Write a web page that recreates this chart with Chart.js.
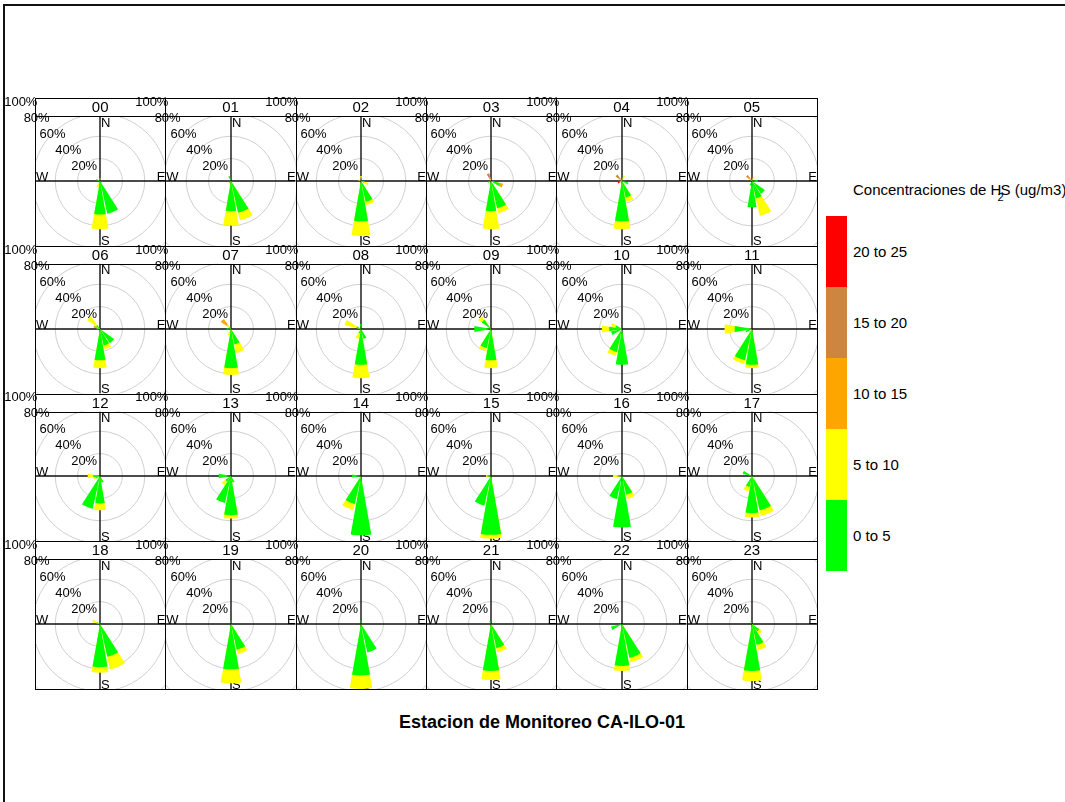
<!DOCTYPE html>
<html>
<head>
<meta charset="utf-8">
<title>Estacion de Monitoreo CA-ILO-01</title>
<script src="https://cdn.jsdelivr.net/npm/chart.js@4.4.1/dist/chart.umd.min.js"></script>
<style>
  html, body { margin: 0; padding: 0; background: #fff; }
  body { width: 1065px; height: 802px; overflow: hidden; position: relative;
         font-family: "Liberation Sans", Arial, sans-serif; color: #000; }
  .frame { position: absolute; left: 3px; top: 4px; width: 1200px; height: 1000px;
           border-left: 2px solid #111; border-top: 2px solid #111; }
  canvas { position: absolute; }
  .line { position: absolute; background: #000; z-index: 5; }
  .strip { position: absolute; text-align: center; font-size: 15px; line-height: 18px; z-index: 4; }
  .title { position: absolute; left: 342px; width: 400px; top: 712px; text-align: center;
           font-size: 18px; font-weight: bold; }
  .key-title { position: absolute; left: 853px; top: 181px; font-size: 15px; white-space: nowrap; }
  .key-title .sub { font-size: 11px; position: relative; top: 6px; margin-left: -4px; margin-right: -3px; }
  .swatch { position: absolute; left: 826px; width: 21px; }
  .key-label { position: absolute; left: 853px; font-size: 15px; line-height: 18px; }
</style>
</head>
<body>
<div class="frame"></div>
<div class="title">Estacion de Monitoreo CA-ILO-01</div>
<div class="key-title">Concentraciones de H<span class="sub">2</span>S (ug/m3)</div>
<div id="root"></div>
<script>
// Hour of day shown in each panel strip
const hours = ['00','01','02','03','04','05','06','07','08','09','10','11',
               '12','13','14','15','16','17','18','19','20','21','22','23'];
// 16 wind sectors, clockwise from north
const directions = ['N','NNE','NE','ENE','E','ESE','SE','SSE','S','SSW','SW','WSW','W','WNW','NW','NNW'];
// H2S concentration classes (ug/m3)
const bandLabels = ['0 to 5','5 to 10','10 to 15','15 to 20','20 to 25'];
const bandColors = ['#00ff00','#ffff00','#ffa500','#cd853f','#ff0000'];
// Frequency rings (%)
const ringValues = [20, 40, 60, 80, 100];

// Frequency (%) per hour and sector for each concentration class
const freq0to5 = [
  [0.5,0,0,0,0,0,2,30,30,2,0,0,0,3.5,0,0],
  [0,0,0,0,0,0,0,29,27,0,2,0,0,0,0,4.5],
  [1,0,0,0,0,3,0,19,36,0,0,0,0,1,0,0],
  [0,0,0,0,0,8,0,25,27,0,0,3,0,0,0,1],
  [0,2,0,0,0,6,0,15,36,0,0,1,0,0,1,0],
  [0,1,0,0,5,0,14,16,23.5,4,0,0,0,0,1,0],
  [0,0,0,0,0,0,15.4,15,28,0,0,0,3,2,4,0],
  [0,0,0,0,0,0,0,14,35,2,0,0,4,0,2,0],
  [4.5,0,0,0,0,0,0,9,32,4,0,0,0,4,0,0],
  [0,0,0,0,0,0,0,0,28,17.5,0,0,15,0,10,0],
  [0,0,0,0,0,0,0,0,32,21,0,10,11.5,6,0,0],
  [0,0,0,0,0,0,0,0,32,28.5,0,6,15.5,0,0,0],
  [0,0,0,0,0,0,0,6,24.5,30,0,4,6,0,0,0],
  [0,0,0,0,0,0,0,6,35,24.7,6,0,11,0,0,0],
  [0,0,0,0,0,0,0,0,53,25.5,0,0,8,0,0,0],
  [0,0,0,0,0,0,0,0,52.5,27,0,0,3,0,0,0],
  [0,0,0,0,0,0,0,17,46,21,0,0,3,0,0,0],
  [0,0,0,0,0,0,0,31.5,33,10,0,0,0,8.5,0,0],
  [0,2,0,0,0,0,0,30,38.5,0,0,0,0,3,0,0],
  [3,0,0,0,0,0,0,23.5,40.5,0,0,0,0,0,0,0],
  [3,0,0,0,0,0,0,26,46,0,0,0,0,0,0,0],
  [0,0,0,0,0,0,0,22,42,0,0,0,0,0,0,3],
  [0,0,0,0,0,0,0,31,37.5,0,0,10,0,0,0,0],
  [0,0,0,0,0,0,8,19,42,0,0,0,0,0,0,3]
];
const freq5to10 = [
  [2,0,0,0,0,0,0,0,13,4,0,0,0,0,0,0],
  [0,0,0,0,0,0,0,7,13,0,1,0,0,0,0,0],
  [3.5,0,0,0,0,4,0,3,13,0,0,0,0,2,0,0],
  [0,0,0,0,0,0,0,4.5,16,0,0,0,0,0,0,1],
  [0,3,0,0,0,0,0,4,7,0,0,0.5,0,0,1,0],
  [0,3,0,0,0,0,0,16,0,0,0,0,0,0,1,0],
  [0,0,0,0,0,0,0,3.5,7,0,0,0,0,1,10,0],
  [0,0,0,0,0,0,0,8,6,4,0,0,0,0,3,0],
  [0,0,0,0,0,0,0,0,12,5,0,0,0,11,0,0],
  [0,0,0,0,0,0,0,0,7,2.5,0,0,0,0,4,0],
  [0,0,0,0,0,0,0,0,0,3.5,0,0,6.5,4,0,0],
  [0,0,0,0,0,0,0,0,3,3.5,0,0,9,0,0,0],
  [0,0,0,0,0,0,0,0,6,0,0,2,5,0,0,0],
  [0,0,0,0,0,0,0,0,3,0,4,0,0,0,0,0],
  [0,0,0,0,0,0,0,0,0,5.5,0,0,0,0,0,0],
  [0,0,0,0,0,0,0,0,3.5,0,0,0,1.5,0,0,0],
  [0,0,0,0,0,0,0,4,0,0,0,0,5,0,0,0],
  [0,0,0,0,0,0,0,5,4,4,0,0,0,0,0,0],
  [0,0,0,0,0,0,0,11.5,5,0,0,0,0,4,0,0],
  [0,0,0,0,0,0,0,4,12.5,0,0,0,0,0,0,0],
  [0,0,0,0,0,0,0,0,12,0,0,0,0,0,0,0],
  [0,0,0,0,0,0,0,4,8,0,0,0,0,0,0,0],
  [0,0,0,0,0,0,0,4,4.5,0,0,0,0,0,0,0],
  [0,0,0,0,0,0,3,5,9,0,0,0,0,0,0,0]
];
const Z = [0,0,0,0,0,0,0,0,0,0,0,0,0,0,0,0];
const freq10to15 = [
  Z, Z, Z,
  [0,0,0,0,0,3,0,0,0,0,0,0,0,0,0,2],
  [0,0,0,0,0,0,0,0,0,0,0,0.5,0,0,1,0],
  [0,0,0,0,0,0,0,0,0,0,0,0,0,0,3,0],
  [0,0,0,0,0,0,0,0,0,0,0,0,0,3,0,0],
  [0,0,0,0,0,0,0,0,0,0,0,0,0,0,6,0],
  Z, Z, Z, Z, Z, Z, Z, Z, Z, Z, Z, Z, Z, Z, Z, Z
];
const freq15to20 = [
  Z, Z, Z,
  [0,0,0,0,0,0,0,0,0,0,0,0,0,0,0,3],
  [0,0,0,0,0,0,0,0,0,0,0,0.5,0,0,4,0],
  [0,0,0,0,0,0,0,0,0,0,0,0,0,0,1.5,0],
  Z, Z, Z, Z, Z, Z, Z, Z, Z, Z, Z, Z, Z, Z, Z, Z, Z, Z
];
const freq20to25 = [
  Z, Z, Z, Z,
  [0,0,0,0,0,0,0,0,0,0,0,1.5,0,0,0,0],
  Z, Z, Z, Z, Z, Z, Z, Z, Z, Z, Z, Z, Z, Z, Z, Z, Z, Z, Z
];
const bandTables = [freq0to5, freq5to10, freq10to15, freq15to20, freq20to25];

// ---- layout ----
const GRID_LEFT = 35, GRID_RIGHT = 817, GRID_TOP = 98, GRID_BOTTOM = 689;
const COLS = 6, ROWS = 4, STRIP_H = 18;
const COL_W = (GRID_RIGHT - GRID_LEFT) / COLS;
const ROW_H = (GRID_BOTTOM - GRID_TOP) / ROWS;
const CANVAS = 224;             // radial scale max (100 %) spans half of this
const SECTOR = 360 / directions.length;
const WEDGE = 20;               // drawn width of a sector, degrees
const FONT = '"Liberation Sans", Arial, sans-serif';

const root = document.getElementById('root');
function addDiv(cls, css, text) {
  const d = document.createElement('div');
  d.className = cls;
  Object.assign(d.style, css);
  if (text !== undefined) d.textContent = text;
  root.appendChild(d);
  return d;
}

// panel borders
for (let c = 0; c <= COLS; c++) {
  const x = Math.round(GRID_LEFT + c * COL_W);
  addDiv('line', {left: x + 'px', top: GRID_TOP + 'px', width: '1px', height: (GRID_BOTTOM - GRID_TOP + 1) + 'px'});
}
for (let r = 0; r <= ROWS; r++) {
  const y = Math.round(GRID_TOP + r * ROW_H);
  addDiv('line', {left: GRID_LEFT + 'px', top: y + 'px', width: (GRID_RIGHT - GRID_LEFT + 1) + 'px', height: '1px'});
  if (r < ROWS) {
    addDiv('line', {left: GRID_LEFT + 'px', top: (y + STRIP_H) + 'px', width: (GRID_RIGHT - GRID_LEFT + 1) + 'px', height: '1px'});
  }
}

// colour key
const SW_TOP = 216, SW_H = 71;
bandLabels.forEach((lab, k) => {
  const top = SW_TOP + (bandLabels.length - 1 - k) * SW_H;
  addDiv('swatch', {top: top + 'px', height: SW_H + 'px', background: bandColors[k]});
  addDiv('key-label', {top: (top + SW_H / 2 - 9) + 'px'}, lab);
});

// frame, axes, compass letters and ring labels for one rose
const roseFrame = {
  id: 'roseFrame',
  beforeDraw(chart, args, o) {
    const ctx = chart.ctx;
    ctx.save();
    ctx.beginPath();
    ctx.rect(o.x0, o.y0, o.x1 - o.x0, o.y1 - o.y0);
    ctx.clip();
  },
  beforeDatasetsDraw(chart, args, o) {
    const ctx = chart.ctx;
    const r = chart.scales.r;
    const cx = r.xCenter, cy = r.yCenter;
    ctx.save();
    ctx.strokeStyle = '#111';
    ctx.lineWidth = 1.4;
    ctx.beginPath();
    ctx.moveTo(o.x0, cy); ctx.lineTo(o.x1, cy);
    ctx.moveTo(cx, o.y0); ctx.lineTo(cx, o.y1);
    ctx.stroke();
    ctx.fillStyle = '#000';
    ctx.font = '13px ' + FONT;
    ctx.textBaseline = 'alphabetic';
    ctx.textAlign = 'left';
    ctx.fillText('N', cx + 1, o.y0 + 10.5);
    ctx.fillText('S', cx + 1, o.y1 - 0.5);
    ctx.fillText('W', o.x0 + 1, cy);
    ctx.textAlign = 'right';
    ctx.fillText('E', o.x1, cy);
    ctx.restore();
  },
  afterDatasetsDraw(chart) {
    chart.ctx.restore();
  },
  afterDraw(chart) {
    const ctx = chart.ctx;
    const r = chart.scales.r;
    ctx.save();
    ctx.fillStyle = '#000';
    ctx.font = '13px ' + FONT;
    ctx.textAlign = 'center';
    ctx.textBaseline = 'middle';
    ringValues.forEach(v => {
      const d = r.getDistanceFromCenterForValue(v) * Math.SQRT1_2;
      ctx.fillText(v + '%', r.xCenter - d, r.yCenter - d + 1);
    });
    ctx.restore();
  }
};

// sector labels alternate with blank spacer slices
const sliceLabels = [];
directions.forEach(d => { sliceLabels.push(d); sliceLabels.push(''); });

hours.forEach((hour, i) => {
  const col = i % COLS, row = Math.floor(i / COLS);
  const pl = GRID_LEFT + col * COL_W, pr = pl + COL_W;
  const rowTop = GRID_TOP + row * ROW_H;
  const pt = rowTop + STRIP_H, pb = rowTop + ROW_H;
  const cx = Math.round((pl + pr) / 2), cy = Math.round((pt + pb) / 2);
  const left = cx - CANVAS / 2, top = cy - CANVAS / 2;

  addDiv('strip', {left: pl + 'px', top: rowTop + 'px', width: COL_W + 'px', height: STRIP_H + 'px'}, hour);

  const cv = document.createElement('canvas');
  cv.width = CANVAS; cv.height = CANVAS;
  cv.style.left = left + 'px'; cv.style.top = top + 'px';
  cv.style.width = CANVAS + 'px'; cv.style.height = CANVAS + 'px';
  cv.style.zIndex = 2 + (i % 2);
  root.appendChild(cv);

  // stacked classes: each dataset reaches the cumulative frequency of its class
  const datasets = bandLabels.map((lab, k) => {
    const data = [];
    directions.forEach((d, s) => {
      let cum = 0;
      for (let b = 0; b <= k; b++) cum += bandTables[b][i][s];
      data.push(bandTables[k][i][s] > 0 ? cum : 0);
      data.push(0);
    });
    return {
      label: lab,
      data,
      backgroundColor: bandColors[k],
      borderWidth: 0,
      angle: ctx => (ctx.dataIndex % 2 === 0 ? WEDGE : SECTOR - WEDGE)
    };
  });

  new Chart(cv, {
    type: 'polarArea',
    data: { labels: sliceLabels, datasets },
    options: {
      responsive: false,
      maintainAspectRatio: false,
      devicePixelRatio: 1,
      animation: false,
      events: [],
      layout: { padding: 0 },
      scales: {
        r: {
          min: 0, max: 100,
          startAngle: -WEDGE / 2,
          ticks: { display: false, stepSize: 20 },
          grid: { circular: true, color: '#cfcfcf', lineWidth: 1 },
          angleLines: { display: false },
          pointLabels: { display: false }
        }
      },
      plugins: {
        legend: { display: false },
        tooltip: { enabled: false },
        roseFrame: { x0: pl - left, x1: pr - left, y0: pt - top, y1: pb - top }
      }
    },
    plugins: [roseFrame]
  });
});
</script>
</body>
</html>
